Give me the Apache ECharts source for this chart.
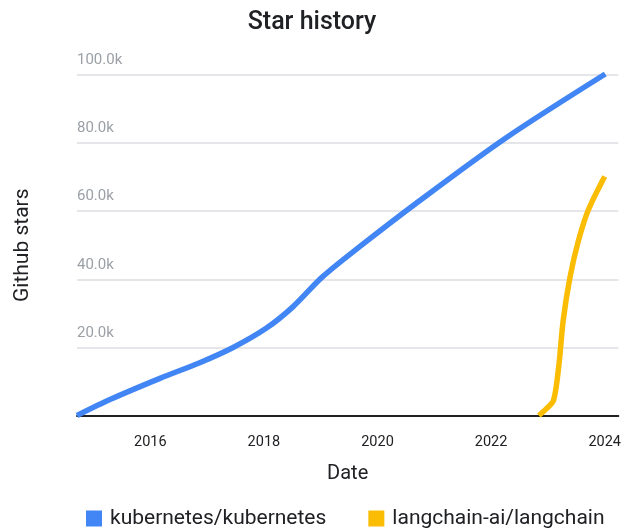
<!DOCTYPE html>
<html>
<head>
<meta charset="utf-8">
<script src="https://cdn.jsdelivr.net/npm/echarts@6/dist/echarts.min.js"></script>
<style>
html,body{margin:0;padding:0;background:#fff;}
#chart{width:624px;height:529px;}
</style>
</head>
<body>
<div id="chart"></div>
<script>
// Data (x = fractional year, y = stars)
const seriesNames = ['kubernetes/kubernetes', 'langchain-ai/langchain'];
const kubernetesYears = [2014.71, 2015.30, 2016.17, 2016.87, 2017.45, 2018.04, 2018.51, 2019.03, 2019.68, 2020.67, 2022.24, 2024.01];
const kubernetesStars = [0, 4750, 10900, 15500, 19900, 25600, 31900, 40700, 49500, 62200, 81300, 100300];
const langchainYears = [2022.84, 2022.98, 2023.10, 2023.19, 2023.27, 2023.39, 2023.54, 2023.71, 2024.00];
const langchainStars = [0, 2100, 4500, 14300, 28000, 40700, 51500, 60300, 70200];
const xTickYears = [2016, 2018, 2020, 2022, 2024];
const yTickValues = [20000, 40000, 60000, 80000, 100000];

const kubeData = kubernetesYears.map((x, i) => [x, kubernetesStars[i]]);
const langData = langchainYears.map((x, i) => [x, langchainStars[i]]);

const chart = echarts.init(document.getElementById('chart'));
chart.setOption({
  animation: false,
  textStyle: { fontFamily: 'Roboto' },
  title: {
    text: 'Star history',
    left: 'center',
    top: 5,
    textStyle: { fontFamily: 'Roboto', fontSize: 25, fontWeight: 500, color: '#202124' }
  },
  legend: {
    top: 503,
    left: 81,
    icon: 'rect',
    itemWidth: 16,
    itemHeight: 16,
    itemGap: 42,
    data: seriesNames,
    textStyle: { fontFamily: 'Roboto', fontSize: 21, color: '#202124', padding: [0, 0, 0, 3] }
  },
  grid: { left: 77, right: 4, top: 75, bottom: 113.5, containLabel: false },
  xAxis: {
    type: 'value',
    min: 2014.71,
    max: 2024.24,
    name: 'Date',
    nameLocation: 'middle',
    nameGap: 48,
    nameTextStyle: { fontSize: 20, color: '#202124', verticalAlign: 'top' },
    axisLine: { show: true, lineStyle: { color: '#202124', width: 2 } },
    axisTick: { show: false },
    splitLine: { show: false },
    axisLabel: {
      customValues: xTickYears,
      formatter: v => String(Math.round(v)),
      fontSize: 14.5,
      color: '#202124',
      margin: 19
    }
  },
  yAxis: {
    type: 'value',
    min: 0,
    max: 100000,
    name: 'Github stars',
    nameLocation: 'middle',
    nameRotate: 90,
    nameGap: 44,
    nameTextStyle: { fontSize: 21, color: '#202124' },
    axisLine: { show: false },
    axisTick: { show: false },
    splitLine: { show: true, lineStyle: { color: '#e6e6ea', width: 2 } },
    axisLabel: {
      customValues: yTickValues,
      inside: true,
      margin: 0,
      verticalAlign: 'bottom',
      padding: [0, 0, 7, 0],
      fontSize: 15,
      color: '#9aa0a6',
      formatter: v => (v / 1000).toFixed(1) + 'k'
    }
  },
  series: [
    {
      name: seriesNames[0],
      type: 'line',
      data: kubeData,
      smooth: 0.3,
      showSymbol: false,
      clip: false,
      lineStyle: { width: 5.5, color: '#4285F4' },
      itemStyle: { color: '#4285F4' }
    },
    {
      name: seriesNames[1],
      type: 'line',
      data: langData,
      smooth: 0.3,
      showSymbol: false,
      clip: false,
      lineStyle: { width: 5.5, color: '#FBBC04' },
      itemStyle: { color: '#FBBC04' }
    }
  ]
});
</script>
</body>
</html>
